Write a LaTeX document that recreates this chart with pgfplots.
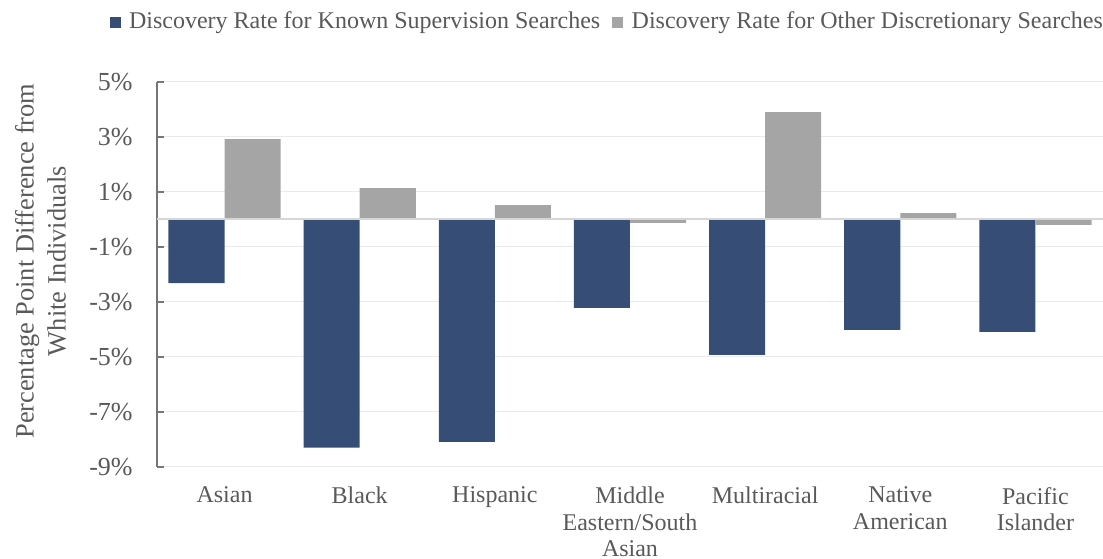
\documentclass[border=0pt]{standalone}
\usepackage{fontspec}
\setmainfont{Liberation Serif}
\usepackage{pgfplots}
\pgfplotsset{compat=1.18}
\definecolor{barblue}{RGB}{54,78,118}
\definecolor{bargray}{RGB}{165,165,165}
\definecolor{textgray}{RGB}{89,89,89}
\definecolor{gridgray}{RGB}{234,234,234}
\definecolor{zerogray}{RGB}{214,214,214}
\definecolor{axisgray}{RGB}{118,118,118}
\begin{document}
\begin{tikzpicture}
\useasboundingbox (-78.5pt,-45.65pt) rectangle (473pt,233.35pt);
\begin{axis}[
  scale only axis,
  width=473pt, height=192.5pt,
  xmin=-0.5, xmax=6.5,
  ymin=-9, ymax=5,
  xtick={0,1,2,3,4,5,6},
  xticklabels={Asian,Black,Hispanic,{Middle\\Eastern/South\\Asian},Multiracial,{Native\\American},{Pacific\\Islander}},
  ytick={-9,-7,-5,-3,-1,1,3,5},
  yticklabels={-9\%,-7\%,-5\%,-3\%,-1\%,1\%,3\%,5\%},
  separate axis lines,
  axis x line*=bottom,
  axis y line*=left,
  x axis line style={draw=none},
  y axis line style={draw=axisgray, line width=1pt, -},
  xtick style={draw=none},
  ytick style={draw=axisgray, line width=1pt},
  tick align=inside,
  major tick length=3.5pt,
  ymajorgrids,
  major grid style={draw=gridgray, line width=0.75pt},
  yticklabel style={font=\fontsize{13}{15}\selectfont, text=textgray, inner sep=0pt, anchor=east, xshift=-12pt},
  xticklabel style={font=\fontsize{12}{13.3}\selectfont, text=textgray, inner sep=0pt, anchor=north, align=center, yshift=-10pt},
  ylabel={Percentage Point Difference from\\White Individuals},
  ylabel style={font=\fontsize{13.2}{16}\selectfont, text=textgray, align=center, anchor=center, at={(axis description cs:-0.1230,0.534)}},
  legend columns=-1,
  legend style={draw=none, fill=none, inner sep=0pt, outer sep=0pt,
    font=\fontsize{12}{14}\selectfont, text=textgray,
    at={(axis description cs:-0.050,1.155)}, anchor=west,
    nodes={inner sep=0pt},
    /tikz/every odd column/.append style={column sep=4.2pt},
    /tikz/every even column/.append style={column sep=6pt}},
]
\addplot[ybar, bar width=0.415, bar shift=-0.2075, fill=barblue, draw=none,
  legend image code/.code={\fill[barblue] (0pt,-2.75pt) rectangle (5.5pt,2.75pt);}]
  coordinates {(0,-2.32) (1,-8.31) (2,-8.10) (3,-3.22) (4,-4.93) (5,-4.02) (6,-4.10)};
\addlegendentry{Discovery Rate for Known Supervision Searches}
\addplot[ybar, bar width=0.415, bar shift=0.2075, fill=bargray, draw=none,
  legend image code/.code={\fill[bargray] (0pt,-2.75pt) rectangle (5.5pt,2.75pt);}]
  coordinates {(0,2.91) (1,1.13) (2,0.51) (3,-0.13) (4,3.89) (5,0.22) (6,-0.21)};
\addlegendentry{Discovery Rate for Other Discretionary Searches}
\draw[zerogray, line width=0.9pt] (axis cs:-0.5,0) -- (axis cs:6.5,0);
\end{axis}
\end{tikzpicture}
\end{document}
